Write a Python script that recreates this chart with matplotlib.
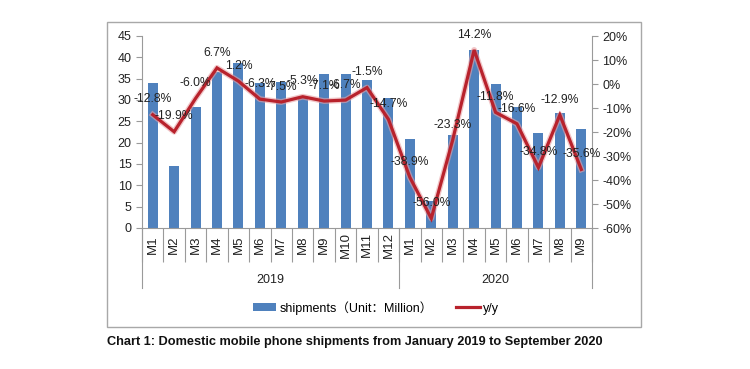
import matplotlib
matplotlib.use('Agg')
import matplotlib.pyplot as plt
from matplotlib.patches import Rectangle, Patch
from matplotlib.lines import Line2D
import numpy as np

plt.rcParams['font.family'] = ['Liberation Sans', 'Noto Sans CJK SC', 'DejaVu Sans']

# data
years = ['2019', '2020']
months_2019 = ['M1', 'M2', 'M3', 'M4', 'M5', 'M6', 'M7', 'M8', 'M9', 'M10', 'M11', 'M12']
months_2020 = ['M1', 'M2', 'M3', 'M4', 'M5', 'M6', 'M7', 'M8', 'M9']
shipments = [34.1, 14.5, 28.4, 36.5, 38.6, 34.0, 34.3, 30.5, 36.2, 36.0, 34.8, 30.4,
             20.8, 6.4, 21.8, 41.7, 33.8, 28.4, 22.2, 26.9, 23.2]
yoy = [-12.8, -19.9, -6.0, 6.7, 1.2, -6.3, -7.5, -5.3, -7.1, -6.7, -1.5, -14.7,
       -38.9, -56.0, -23.3, 14.2, -11.8, -16.6, -34.8, -12.9, -35.6]

BAR_COLOR = '#4f81bd'
LINE_COLOR = '#b8222c'
AXIS_COLOR = '#9a9a9a'
W, H = 750, 369

months = months_2019 + months_2020
x = np.arange(len(months))

fig = plt.figure(figsize=(7.5, 3.69), dpi=100)
ax = fig.add_axes([142 / W, 1 - 228 / H, 450 / W, 192 / H])
ax2 = ax.twinx()

ax.bar(x, shipments, width=0.47, color=BAR_COLOR, zorder=2)
ax.set_xlim(-0.5, len(months) - 0.5)
ax.set_ylim(0, 45)
ax.set_yticks(np.arange(0, 46, 5))

# y/y line with a faint glow
ax2.plot(x, yoy, color='#e8a0a4', linewidth=4.2, alpha=0.6, solid_joinstyle='round')
ax2.plot(x, yoy, color=LINE_COLOR, linewidth=2.3, solid_joinstyle='miter')
ax2.set_ylim(-60, 20)
ax2.set_yticks(np.arange(-60, 21, 10))
ax2.set_yticklabels([f'{v}%' for v in range(-60, 21, 10)])
for xi, v in zip(x, yoy):
    ax2.annotate(f'{v:.1f}%', (xi, v), xytext=(0, 11), textcoords='offset points',
                 ha='center', va='center', fontsize=8.7, color='#222222')

for a in (ax, ax2):
    a.spines['top'].set_visible(False)
    for s in ('left', 'right', 'bottom'):
        a.spines[s].set_color(AXIS_COLOR)
    a.tick_params(axis='y', colors=AXIS_COLOR, labelcolor='#222222', labelsize=9,
                  length=4, width=0.8)
ax2.spines['bottom'].set_visible(False)
ax2.spines['left'].set_visible(False)
ax.spines['right'].set_visible(False)

# two-level category axis
ax.set_xticks(np.arange(-0.5, len(months), 1))
ax.set_xticklabels([])
ax.tick_params(axis='x', which='major', length=24.5, width=0.8, color=AXIS_COLOR)
ax.set_xticks(x, minor=True)
ax.set_xticklabels(months, minor=True, rotation=90, fontsize=9.5, color='#222222')
ax.tick_params(axis='x', which='minor', length=0, pad=12)
for lbl in ax.get_xticklabels(minor=True):
    lbl.set_verticalalignment('center')

xt = ax.get_xaxis_transform()
group_sizes = [len(months_2019), len(months_2020)]
edges = np.concatenate([[0], np.cumsum(group_sizes)]) - 0.5
for e in edges:
    ax.plot([e, e], [0, -0.3125], transform=xt, color=AXIS_COLOR, linewidth=0.8,
            clip_on=False)
for yr, a0, a1 in zip(years, edges[:-1], edges[1:]):
    ax.text((a0 + a1) / 2, -0.271, yr, transform=xt, ha='center', va='center',
            fontsize=9, color='#222222')

# legend
handles = [Patch(facecolor=BAR_COLOR, edgecolor='none'),
           Line2D([0], [0], color=LINE_COLOR, linewidth=2.3)]
fig.legend(handles, ['shipments（Unit：Million）', 'y/y'], loc='center',
           bbox_to_anchor=(376 / W, 1 - 307.7 / H), ncol=2, frameon=False,
           fontsize=9, handlelength=1.9, handleheight=0.55, handletextpad=0.3,
           columnspacing=1.8)

# chart frame
fig.patches.append(Rectangle((107 / W, 1 - 327 / H), (641 - 107) / W, (327 - 22) / H,
                             transform=fig.transFigure, fill=False,
                             edgecolor='#a8a8a8', linewidth=1.0))

fig.text(107 / W, 1 - 342 / H,
         'Chart 1: Domestic mobile phone shipments from January 2019 to September 2020',
         ha='left', va='center', fontsize=9.2, fontweight='bold', color='#111111')

fig.savefig('out.png', dpi=100)
